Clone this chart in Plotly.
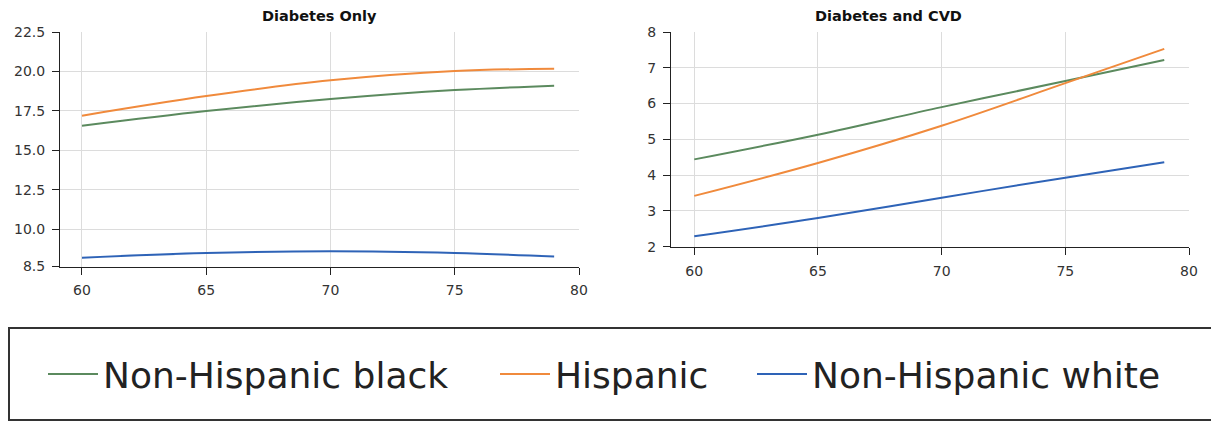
import plotly.graph_objects as go

ages = [60, 65, 70, 75, 79]

# Diabetes Only
dm_black = [16.56, 17.49, 18.25, 18.82, 19.10]
dm_hisp = [17.20, 18.44, 19.44, 20.03, 20.17]
dm_white = [8.21, 8.50, 8.61, 8.50, 8.28]

# Diabetes and CVD
cvd_black = [4.44, 5.13, 5.90, 6.63, 7.22]
cvd_hisp = [3.42, 4.34, 5.38, 6.57, 7.53]
cvd_white = [2.29, 2.80, 3.37, 3.93, 4.36]

series_names = ["Non-Hispanic black", "Hispanic", "Non-Hispanic white"]
colors = ["#5b8a5e", "#f08a3c", "#2e63b7"]

left_yticks = [7.65, 10.0, 12.5, 15.0, 17.5, 20.0, 22.5]
left_yticktext = ["8.5", "10.0", "12.5", "15.0", "17.5", "20.0", "22.5"]
right_yticks = [2, 3, 4, 5, 6, 7, 8]
x_ticks = [60, 65, 70, 75, 80]

# page has an 8px body margin; figure fills the rest of the 1219x423 window
OFF = 8
W, H = 1219 - OFF, 423 - OFF


def px_x(p):
    return (p - OFF) / W


def px_y(p):
    return 1 - (p - OFF) / H


fig = go.Figure()
left_data = [dm_black, dm_hisp, dm_white]
right_data = [cvd_black, cvd_hisp, cvd_white]
legends = ["legend", "legend2", "legend3"]

for i, name in enumerate(series_names):
    fig.add_trace(go.Scatter(
        x=ages, y=left_data[i], mode="lines", name=name,
        line=dict(color=colors[i], width=2, shape="spline"),
        xaxis="x", yaxis="y", legend=legends[i], showlegend=True,
    ))
for i, name in enumerate(series_names):
    fig.add_trace(go.Scatter(
        x=ages, y=right_data[i], mode="lines", name=name,
        line=dict(color=colors[i], width=2, shape="spline"),
        xaxis="x2", yaxis="y2", showlegend=False,
    ))

tickfont = dict(family="DejaVu Sans", size=14, color="#333333")
axis_common = dict(
    showline=True, linecolor="#222222", linewidth=1,
    ticks="outside", ticklen=7, tickcolor="#222222",
    showgrid=True, gridcolor="#dcdcdc", gridwidth=1,
    zeroline=False, tickfont=tickfont, fixedrange=True, automargin=False,
)

fig.update_layout(
    width=W, height=H,
    margin=dict(l=0, r=0, t=0, b=0, pad=0, autoexpand=False),
    paper_bgcolor="white", plot_bgcolor="white",
    xaxis=dict(domain=[px_x(60), px_x(579)], range=[59.115, 80],
               tickvals=x_ticks, anchor="y", ticklabelstandoff=4, **axis_common),
    yaxis=dict(domain=[px_y(266.5), px_y(32)], range=[7.65, 22.5],
               tickvals=left_yticks, ticktext=left_yticktext, anchor="x",
               ticklabelstandoff=4, **axis_common),
    xaxis2=dict(domain=[px_x(671), px_x(1189)], range=[59.06, 80],
                tickvals=x_ticks, anchor="y2", ticklabelstandoff=4, **axis_common),
    yaxis2=dict(domain=[px_y(246.7), px_y(32)], range=[2, 8],
                tickvals=right_yticks, anchor="x2", ticklabelstandoff=4, **axis_common),
    showlegend=True,
)

legend_font = dict(family="DejaVu Sans", size=36, color="#222222")
legend_x = [43, 495, 752]
for i, lg in enumerate(legends):
    fig.update_layout(**{lg: dict(
        x=px_x(legend_x[i]), xanchor="left", y=px_y(374), yanchor="middle",
        orientation="h", font=legend_font, bgcolor="rgba(0,0,0,0)",
        borderwidth=0, itemwidth=50,
    )})

# legend frame
fig.add_shape(type="rect", xref="paper", yref="paper",
              x0=px_x(9), x1=px_x(1215), y0=px_y(420), y1=px_y(328),
              line=dict(color="#333333", width=2), fillcolor="rgba(0,0,0,0)")

title_font = dict(family="DejaVu Sans", size=14.5, color="#111111")
fig.add_annotation(text="<b>Diabetes Only</b>", xref="paper", yref="paper",
                   x=px_x(319), y=px_y(16.5), showarrow=False, font=title_font,
                   xanchor="center", yanchor="middle")
fig.add_annotation(text="<b>Diabetes and CVD</b>", xref="paper", yref="paper",
                   x=px_x(889), y=px_y(16.5), showarrow=False, font=title_font,
                   xanchor="center", yanchor="middle")

fig.write_html("out.html")
